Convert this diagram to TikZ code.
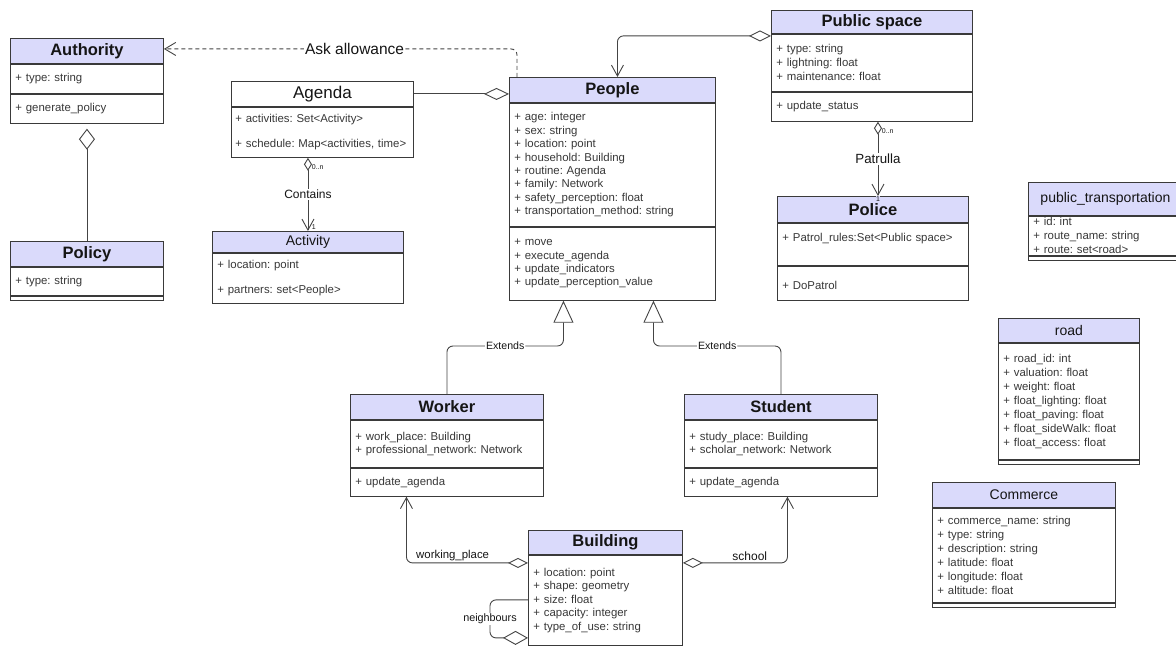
\documentclass[tikz,border=0pt]{standalone}
\usepackage{fontspec}
\setmainfont{Liberation Sans}
\usepackage{tikz}
\usetikzlibrary{positioning,arrows.meta}
\definecolor{clsfill}{HTML}{DADAFB}
\definecolor{clsline}{HTML}{3A3A3A}
\definecolor{clstext}{HTML}{151515}
\definecolor{itemtext}{HTML}{383838}
\definecolor{linkc}{HTML}{444444}
\frenchspacing

\begin{document}
\begin{tikzpicture}[x=1pt, y=-1pt,
  clshead/.style={draw=clsline, fill=clsfill, line width=0.9pt, anchor=north west, inner sep=0pt, text=clstext, font=\fontsize{16.5}{18}\selectfont\bfseries},
  clsname/.style={clshead, font=\fontsize{14}{16}\selectfont},
  clspart/.style={draw=clsline, fill=white, line width=0.9pt, anchor=north, inner xsep=5pt, inner ysep=1pt, align=left, text=itemtext, font=\fontsize{11.4}{13.4}\selectfont\frenchspacing},
  clsend/.style={draw=clsline, fill=white, line width=0.9pt, anchor=north, inner sep=0pt, minimum height=4pt},
  link/.style={draw=linkc, line width=0.9pt},
  lbl/.style={fill=white, inner sep=1pt, text=clstext},
  mult/.style={font=\fontsize{7}{8}\selectfont, inner sep=0.5pt, text=clstext},
]
\useasboundingbox (0,0) rectangle (1176,647);

% left column
\node[clshead, minimum width=153pt, minimum height=25pt] (authority) at (10,38) {Authority};
\node[clspart, below=0pt of authority, text width=143pt, minimum height=29pt] (authattr) {+ type: string};
\node[clspart, below=0pt of authattr, text width=143pt, minimum height=29pt] (authmeth) {+ generate\_policy};

\node[clshead, minimum width=153pt, minimum height=25pt] (policy) at (10,241) {Policy};
\node[clspart, below=0pt of policy, text width=143pt, minimum height=28pt] (polattr) {+ type: string};
\node[clsend, below=0pt of polattr, minimum width=153pt] (polmeth) {};

\node[clsname, fill=white, minimum width=182pt, minimum height=25pt, font=\fontsize{17}{19}\selectfont] (agenda) at (231,81) {Agenda};
\node[clspart, below=0pt of agenda, text width=174pt, inner xsep=4pt, minimum height=50pt, font=\fontsize{11.4}{25}\selectfont\frenchspacing] (agattr) {+ activities: Set<Activity>\\+ schedule: Map<activities, time>};

\node[clsname, minimum width=191pt, minimum height=21pt] (activity) at (212,231) {Activity};
\node[clspart, below=0pt of activity, text width=181pt, minimum height=50pt, font=\fontsize{11.4}{25}\selectfont\frenchspacing] (actattr) {+ location: point\\+ partners: set<People>};

% centre
\node[clshead, minimum width=206pt, minimum height=25pt] (people) at (509,77) {People};
\node[clspart, below=0pt of people, text width=196pt, minimum height=123pt] (pplattr) {+ age: integer\\+ sex: string\\+ location: point\\+ household: Building\\+ routine: Agenda\\+ family: Network\\+ safety\_perception: float\\+ transportation\_method: string};
\node[clspart, below=0pt of pplattr, text width=196pt, minimum height=73pt] (pplmeth) {+ move\\+ execute\_agenda\\+ update\_indicators\\+ update\_perception\_value};

\node[clshead, minimum width=193pt, minimum height=25pt] (worker) at (350,394) {Worker};
\node[clspart, below=0pt of worker, text width=183pt, minimum height=47pt] (wrkattr) {+ work\_place: Building\\+ professional\_network: Network};
\node[clspart, below=0pt of wrkattr, text width=183pt, minimum height=28pt] (wrkmeth) {+ update\_agenda};

\node[clshead, minimum width=193pt, minimum height=25pt] (student) at (684,394) {Student};
\node[clspart, below=0pt of student, text width=183pt, minimum height=47pt] (stdattr) {+ study\_place: Building\\+ scholar\_network: Network};
\node[clspart, below=0pt of stdattr, text width=183pt, minimum height=28pt] (stdmeth) {+ update\_agenda};

\node[clshead, minimum width=154pt, minimum height=24pt] (building) at (528,530) {Building};
\node[clspart, below=0pt of building, text width=144pt, minimum height=90pt] (bldattr) {+ location: point\\+ shape: geometry\\+ size: float\\+ capacity: integer\\+ type\_of\_use: string};

% right column
\node[clshead, minimum width=201pt, minimum height=23pt] (pubspace) at (771,10) {Public space};
\node[clspart, below=0pt of pubspace, text width=191pt, minimum height=57pt, font=\fontsize{11.4}{14}\selectfont\frenchspacing] (pubattr) {+ type: string\\+ lightning: float\\+ maintenance: float};
\node[clspart, below=0pt of pubattr, text width=191pt, minimum height=29pt] (pubmeth) {+ update\_status};

\node[clshead, minimum width=191pt, minimum height=26pt] (police) at (777,196) {Police};
\node[clspart, below=0pt of police, text width=181pt, minimum height=42pt] (polcattr) {+ Patrol\_rules:Set<Public space>\\\mbox{}};
\node[clspart, below=0pt of polcattr, text width=181pt, minimum height=34pt] (polcmeth) {\mbox{}\\+ DoPatrol};

\node[clsname, minimum width=154pt, minimum height=33pt] (transport) at (1028,182) {public\_transportation};
\node[clspart, below=0pt of transport, text width=144pt, minimum height=39pt, font=\fontsize{11.4}{14}\selectfont\frenchspacing] (trattr) {+ id: int\\+ route\_name: string\\+ route: set<road>};
\node[clsend, below=0pt of trattr, minimum width=154pt] (trmeth) {};

\node[clsname, minimum width=141pt, minimum height=24pt] (road) at (998,318) {road};
\node[clspart, below=0pt of road, text width=131pt, minimum height=116pt, font=\fontsize{11.4}{14}\selectfont\frenchspacing] (roadattr) {+ road\_id: int\\+ valuation: float\\+ weight: float\\+ float\_lighting: float\\+ float\_paving: float\\+ float\_sideWalk: float\\+ float\_access: float};
\node[clsend, below=0pt of roadattr, minimum width=141pt] (roadmeth) {};

\node[clsname, minimum width=183pt, minimum height=25pt] (commerce) at (932,482) {Commerce};
\node[clspart, below=0pt of commerce, text width=173pt, minimum height=94pt, font=\fontsize{11.4}{14}\selectfont\frenchspacing] (comattr) {+ commerce\_name: string\\+ type: string\\+ description: string\\+ latitude: float\\+ longitude: float\\+ altitude: float};
\node[clsend, below=0pt of comattr, minimum width=183pt] (commeth) {};

% associations
\draw[link, dash pattern=on 4pt off 3pt, rounded corners=6pt, -{Straight Barb[length=11pt,width=13pt]}] ([xshift=8pt]people.north west) |- node[lbl, pos=0.73, font=\fontsize{15.5}{17}\selectfont] {Ask allowance} ([yshift=2pt]authority.east);
\draw[link, {Diamond[fill=white,length=21pt,width=16pt]}-] ([yshift=-5pt]authmeth.south) -- (policy.north);
\draw[link, -{Diamond[fill=white,length=25pt,width=12pt]}] (agenda.east) -- (agenda.east -| people.west);
\draw[link, {Diamond[fill=white,length=13pt,width=8pt]}-{Straight Barb[length=11pt,width=12pt]}] (activity.north |- agattr.south) -- node[lbl, font=\fontsize{12}{14}\selectfont] {Contains} node[mult, at start, anchor=north west, xshift=3pt, yshift=-6pt] {0..n} node[mult, at end, anchor=south west, xshift=3pt, yshift=1pt] {1} (activity.north);
\draw[link, rounded corners=6pt, {Diamond[fill=white,length=22pt,width=11pt]}-{Straight Barb[length=11pt,width=12pt]}] ([yshift=-2pt]pubspace.south west) -| ([xshift=5pt]people.north);
\draw[link, {Diamond[fill=white,length=13pt,width=8pt]}-{Straight Barb[length=11pt,width=12pt]}] ([xshift=6pt]pubmeth.south) -- node[lbl, font=\fontsize{13.3}{15}\selectfont] {Patrulla} node[mult, at start, anchor=north west, xshift=3pt, yshift=-6pt] {0..n} node[mult, at end, anchor=north, fill=clsfill] {1} ([xshift=5pt]police.north);

% generalisation
\coordinate (extl) at ([xshift=-49pt]pplmeth.south);
\coordinate (extr) at ([xshift=41pt]pplmeth.south);
\coordinate (exty) at (0,346);
\draw[link, rounded corners=6pt, -{Triangle[fill=white,length=22pt,width=20pt]}] (worker.north) |- node[lbl, pos=0.75, font=\fontsize{10.6}{12}\selectfont] {Extends} (extl |- exty) -- (extl);
\draw[link, rounded corners=6pt, -{Triangle[fill=white,length=22pt,width=20pt]}] (student.north) |- node[lbl, pos=0.75, font=\fontsize{10.6}{12}\selectfont] {Extends} (extr |- exty) -- (extr);

% building links
\coordinate (bw) at ([yshift=-8pt]bldattr.north west);
\coordinate (be) at ([yshift=-8pt]bldattr.north east);
\coordinate (bn1) at ([yshift=-45pt]bldattr.north west);
\coordinate (bn2) at ([yshift=-83pt]bldattr.north west);
\draw[link, rounded corners=6pt, {Diamond[fill=white,length=20pt,width=10pt]}-{Straight Barb[length=11pt,width=12pt]}] (bw) -| node[pos=0.31, above=1pt, text=clstext, inner sep=1pt, font=\fontsize{11.4}{13}\selectfont] {working\_place} ([xshift=-40.5pt]wrkmeth.south);
\draw[link, rounded corners=6pt, {Diamond[fill=white,length=20pt,width=10pt]}-{Straight Barb[length=11pt,width=12pt]}] (be) -| node[pos=0.32, above=1pt, text=clstext, inner sep=1pt, font=\fontsize{12}{14}\selectfont] {school} ([xshift=6.5pt]stdmeth.south);
\draw[link, rounded corners=6pt, -{Diamond[fill=white,length=25pt,width=14pt]}] (bn1) -- ++(-38,0) |- node[lbl, pos=0.25, font=\fontsize{10.8}{12}\selectfont] {neighbours} (bn2);
\end{tikzpicture}
\end{document}
